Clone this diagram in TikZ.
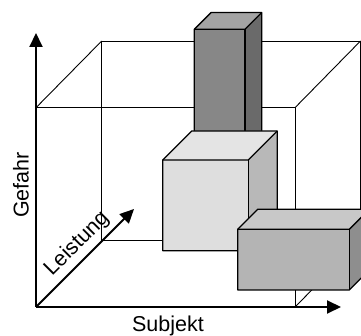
\documentclass[tikz,border=0pt]{standalone}
\usepackage{fontspec}
\setmainfont{Liberation Sans}
\usetikzlibrary{arrows.meta}
\definecolor{talltop}{HTML}{A4A4A4}
\definecolor{tallfront}{HTML}{878787}
\definecolor{tallside}{HTML}{6A6A6A}
\definecolor{midtop}{HTML}{E4E4E4}
\definecolor{midfront}{HTML}{DEDEDE}
\definecolor{midside}{HTML}{B8B8B8}
\definecolor{lowtop}{HTML}{C8C8C8}
\definecolor{lowfront}{HTML}{B4B4B4}
\definecolor{lowside}{HTML}{8E8E8E}
\tikzset{
  wire/.style={line width=0.9pt, black},
  face/.style={line width=1.3pt, line join=round, draw=black},
  axis/.style={line width=2pt, -{Triangle[length=14pt,width=13pt]}},
  lbl/.style={font=\fontsize{21.5}{24}\selectfont, inner sep=0pt},
}
% box: front-left x, front-top y, front-right x, front-bottom y, depth, top, front, side colours
\newcommand{\solidbox}[8]{%
  \fill[#6] (#1,#2) -- ({#1+#5},{#2-#5}) -- ({#3+#5},{#2-#5}) -- (#3,#2) -- cycle;
  \fill[#8] (#3,#2) -- ({#3+#5},{#2-#5}) -- ({#3+#5},{#4-#5}) -- (#3,#4) -- cycle;
  \fill[#7] (#1,#2) rectangle (#3,#4);
  \draw[face] (#1,#4) -- (#1,#2) -- ({#1+#5},{#2-#5}) -- ({#3+#5},{#2-#5})
    -- ({#3+#5},{#4-#5}) -- (#3,#4) -- cycle;
  \draw[face] (#1,#2) -- (#3,#2) -- ({#3+#5},{#2-#5});
  \draw[face] (#3,#2) -- (#3,#4);
}
\begin{document}
\begin{tikzpicture}[x=1pt,y=-1pt]
\useasboundingbox (0,0) rectangle (361,336);
\begin{scope}
\clip (0,0) rectangle (361,336);
% corner points of the frame cube
\coordinate (O) at (36,307);
\coordinate (FTL) at (36,107.7);
\coordinate (FTR) at (295,107.7);
\coordinate (FBR) at (295,307);
\coordinate (BTL) at (101.7,41);
\coordinate (BTR) at (360.5,41);
\coordinate (BBL) at (101.7,240.7);
\coordinate (BBR) at (360.5,240.7);
% wire frame
\draw[wire] (FTL) -- (FTR) -- (FBR);
\draw[wire] (BBL) -- (BTL) -- (BTR) -- (BBR) -- (BBL);
\draw[wire] (FTL) -- (BTL);
\draw[wire] (FTR) -- (BTR);
\draw[wire] (FBR) -- (BBR);
% bars, back to front
\solidbox{194.3}{29.3}{245}{147.7}{16.7}{talltop}{tallfront}{tallside}
\solidbox{162.7}{160}{248.3}{250.7}{29}{midtop}{midfront}{midside}
\solidbox{237.7}{229.3}{349.3}{290}{20}{lowtop}{lowfront}{lowside}
\end{scope}
% axes
\coordinate (YT) at (36,33);
\coordinate (XT) at (341,307);
\coordinate (ZT) at (134,209);
\draw[axis] (O) -- (YT);
\draw[axis] (O) -- (XT);
\draw[axis] (O) -- (ZT);
% axis labels
\node[lbl, rotate=90] (gefahr) at (21,185) {Gefahr};
\node[lbl] (subjekt) at (168,326) {Subjekt};
\node[lbl, rotate=45] (leistung) at (77,244) {Leistung};
\end{tikzpicture}
\end{document}
